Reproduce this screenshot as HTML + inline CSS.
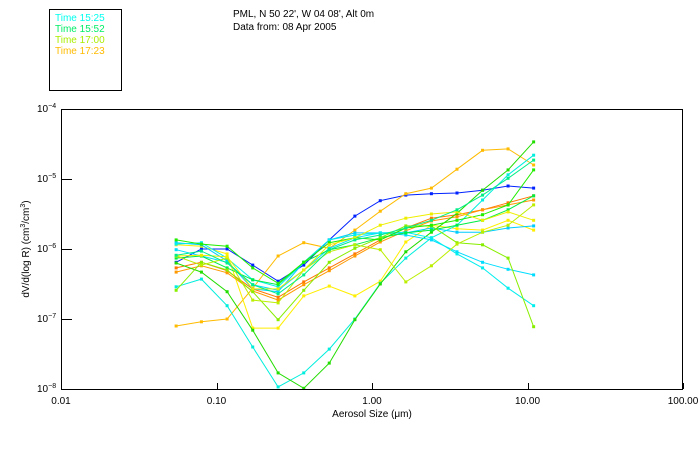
<!DOCTYPE html>
<html><head><meta charset="utf-8"><style>
html,body{margin:0;padding:0;background:#fff;}
svg{display:block;font-family:"Liberation Sans","DejaVu Sans",sans-serif;}
</style></head><body>
<svg id="chart" width="700" height="450" viewBox="0 0 700 450" xmlns="http://www.w3.org/2000/svg">
<rect x="0" y="0" width="700" height="450" fill="#fff"/>
<g>
<rect x="49.5" y="9.5" width="72" height="81" fill="none" stroke="#000" stroke-width="1"/>
<text x="55" y="21" font-size="10" fill="#00ffee">Time 15:25</text>
<text x="55" y="32" font-size="10" fill="#00ee66">Time 15:52</text>
<text x="55" y="43" font-size="10" fill="#aaee00">Time 17:00</text>
<text x="55" y="54" font-size="10" fill="#ffbb00">Time 17:23</text>
</g>
<text x="233" y="17" font-size="10" fill="#000">PML, N 50 22', W 04 08', Alt 0m</text>
<text x="233" y="30" font-size="10" fill="#000">Data from: 08 Apr 2005</text>
<g id="plot"></g>
<text x="372" y="417" font-size="10" text-anchor="middle">Aerosol Size (μm)</text>
<text transform="translate(29,249) rotate(-90)" font-size="10" text-anchor="middle">dV/d(log R) (cm<tspan font-size="7" dy="-4">3</tspan><tspan dy="4">/cm</tspan><tspan font-size="7" dy="-4">3</tspan><tspan dy="4">)</tspan></text>
</svg>
<script>
const sizes = [0.055,0.080,0.117,0.171,0.249,0.364,0.531,0.776,1.13,1.65,2.41,3.52,5.14,7.50,10.95];
const xTicks = [0.01,0.1,1,10,100];
const xTickLabels = ["0.01","0.10","1.00","10.00","100.00"];
const yTicks = [-4,-5,-6,-7,-8];
const seriesColors = ["#0022ff","#ffbb00","#ffee00","#ff7700","#ff9900","#00ccff","#00eedd","#22dd00","#00ddff","#00eeee","#00ee44","#88ee00","#bbee00","#22ee00","#eeee00","#00ee88"];
const sA = [-6.19,-6.00,-6.00,-6.23,-6.46,-6.23,-5.87,-5.53,-5.31,-5.23,-5.21,-5.20,-5.16,-5.10,-5.13];
const sB = [-7.10,-7.04,-7.00,-6.56,-6.10,-5.91,-5.99,-5.73,-5.46,-5.21,-5.13,-4.86,-4.59,-4.57,-4.80];
const sC = [-5.94,-5.96,-6.07,-7.13,-7.13,-6.67,-6.53,-6.67,-6.46,-5.90,-5.66,-5.71,-5.73,-5.59,-5.73];
const sD = [-6.27,-6.19,-6.31,-6.57,-6.69,-6.47,-6.27,-6.07,-5.87,-5.70,-5.56,-5.51,-5.44,-5.34,-5.24];
const sE = [-6.33,-6.24,-6.34,-6.60,-6.73,-6.51,-6.31,-6.10,-5.90,-5.74,-5.60,-5.54,-5.44,-5.37,-5.30];
const sF = [-5.91,-5.94,-6.17,-6.57,-6.61,-6.19,-5.87,-5.77,-5.77,-5.77,-5.70,-5.76,-5.76,-5.70,-5.67];
const sG = [-6.54,-6.43,-6.81,-7.40,-7.97,-7.77,-7.43,-7.00,-6.49,-6.13,-5.84,-5.66,-5.30,-4.94,-4.66];
const sH = [-6.20,-6.33,-6.61,-7.16,-7.77,-7.99,-7.63,-7.01,-6.50,-6.04,-5.76,-5.49,-5.16,-4.87,-4.47];
const sI = [-6.01,-6.10,-6.19,-6.51,-6.59,-6.30,-5.99,-5.84,-5.77,-5.80,-5.87,-6.04,-6.19,-6.29,-6.37];
const sJ = [-5.93,-5.91,-6.13,-6.44,-6.54,-6.19,-5.87,-5.80,-5.77,-5.76,-5.84,-6.07,-6.27,-6.56,-6.81];
const sK = [-6.13,-6.10,-6.27,-6.44,-6.51,-6.19,-6.01,-5.94,-5.84,-5.77,-5.73,-5.66,-5.59,-5.44,-5.24];
const sL = [-6.59,-6.19,-6.30,-6.61,-7.01,-6.59,-6.19,-5.99,-5.84,-5.67,-5.67,-5.91,-5.94,-6.13,-7.11];
const sM = [-6.10,-6.23,-6.13,-6.73,-6.77,-6.30,-6.04,-5.94,-6.01,-6.47,-6.24,-5.93,-5.76,-5.66,-5.37];
const sN = [-5.87,-5.93,-5.96,-6.27,-6.49,-6.19,-5.91,-5.84,-5.87,-5.70,-5.66,-5.59,-5.51,-5.37,-4.87];
const sO = [-6.10,-6.09,-6.11,-6.57,-6.57,-6.30,-5.94,-5.84,-5.66,-5.56,-5.50,-5.47,-5.59,-5.47,-5.59];
const sP = [-6.09,-6.03,-6.20,-6.51,-6.64,-6.37,-6.01,-5.87,-5.80,-5.70,-5.59,-5.44,-5.23,-4.99,-4.73];
const allSeries = [sA,sB,sC,sD,sE,sF,sG,sH,sI,sJ,sK,sL,sM,sN,sO,sP];

const L=61,R=683,T=109,B=389;
function xs(v){return L+(Math.log10(v)+2)/4*(R-L);}
function ys(e){return T+(-4-e)/(-4+8)*(B-T);}
const NS="http://www.w3.org/2000/svg";
const plot=document.getElementById('plot');
function mk(tag,attrs){const e=document.createElementNS(NS,tag);for(const k in attrs)e.setAttribute(k,attrs[k]);return e;}

allSeries.forEach((s,si)=>{
  const g=mk('g',{});
  
  
  const pts=s.map((v,i)=>xs(sizes[i]).toFixed(1)+','+ys(v).toFixed(1)).join(' ');
  const pl=mk('polyline',{points:pts,fill:'none',stroke:seriesColors[si],'stroke-width':1});
  
  
  g.appendChild(pl);
  s.forEach((v,i)=>{
    const r=mk('rect',{x:xs(sizes[i])-1.5,y:ys(v)-1.5,width:3,height:3,fill:seriesColors[si]});
    
    
    g.appendChild(r);
  });
  plot.appendChild(g);
});

const frame=mk('rect',{x:L+0.5,y:T+0.5,width:R-L-1,height:B-T,fill:'none',stroke:'#000','stroke-width':1});


plot.appendChild(frame);

xTicks.forEach((t,i)=>{
  const x=Math.round(xs(t))+0.5;
  const tk=mk('line',{x1:x,x2:x,y1:B,y2:B-6,stroke:'#000'});
  
  
  plot.appendChild(tk);
  const lb=mk('text',{x:xs(t),y:B+15,'font-size':10,'text-anchor':'middle'});
  lb.textContent=xTickLabels[i];
  
  
  plot.appendChild(lb);
});
yTicks.forEach(t=>{
  const y=Math.round(ys(t))+0.5;
  const tk=mk('line',{x1:L,x2:L+11,y1:y,y2:y,stroke:'#000'});
  
  
  plot.appendChild(tk);
  const lb=mk('text',{x:37,y:ys(t)+3,'font-size':10});
  lb.textContent='10';
  const sp=mk('tspan',{'font-size':7,dy:-4});
  sp.textContent=String(t).replace('-','\u2212');
  lb.appendChild(sp);
  
  
  plot.appendChild(lb);
});
</script>
</body></html>
